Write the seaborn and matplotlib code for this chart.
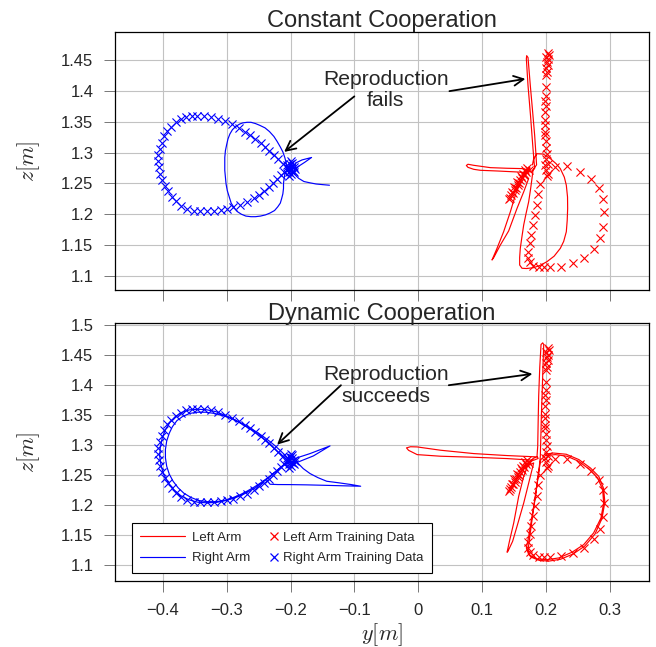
import numpy as np
import matplotlib
matplotlib.use("Agg")
import matplotlib.pyplot as plt
import seaborn as sns
from matplotlib.lines import Line2D
from matplotlib.legend_handler import HandlerLine2D

sns.set_style("whitegrid")
plt.rcParams["font.family"] = ["Liberation Sans", "DejaVu Sans"]
plt.rcParams["mathtext.fontset"] = "cm"
plt.rcParams["axes.unicode_minus"] = True

# ---------------- text / ticks ----------------
TITLES = ["Constant Cooperation", "Dynamic Cooperation"]
ANNOT_TEXT = ["Reproduction\nfails", "Reproduction\nsucceeds"]
LEGEND_LABELS = ["Left Arm", "Right Arm", "Left Arm Training Data", "Right Arm Training Data"]
X_TICKS = [-0.4, -0.3, -0.2, -0.1, 0.0, 0.1, 0.2, 0.3]
X_TICK_LABELS = ["\u22120.4", "\u22120.3", "\u22120.2", "\u22120.1", "0", "0.1", "0.2", "0.3"]
Y_TICKS_TOP = [1.1, 1.15, 1.2, 1.25, 1.3, 1.35, 1.4, 1.45]
Y_TICK_LABELS_TOP = ["1.1", "1.15", "1.2", "1.25", "1.3", "1.35", "1.4", "1.45"]
Y_TICKS_BOT = [1.1, 1.15, 1.2, 1.25, 1.3, 1.35, 1.4, 1.45, 1.5]
Y_TICK_LABELS_BOT = ["1.1", "1.15", "1.2", "1.25", "1.3", "1.35", "1.4", "1.45", "1.5"]

# ---------------- training data (same in both panels) ----------------
TRAIN_RIGHT_Y = [-0.205, -0.212, -0.219, -0.226, -0.233, -0.240, -0.247, -0.255, -0.263, -0.272,
                 -0.281, -0.292, -0.303, -0.314, -0.325, -0.336, -0.346, -0.355, -0.364, -0.372,
                 -0.380, -0.387, -0.393, -0.398, -0.402, -0.405, -0.407, -0.407, -0.406, -0.404,
                 -0.401, -0.397, -0.392, -0.386, -0.379, -0.371, -0.362, -0.352, -0.342, -0.331,
                 -0.320, -0.309, -0.299, -0.290, -0.279, -0.268, -0.258, -0.249, -0.241, -0.234,
                 -0.227, -0.221, -0.215, -0.210,
                 -0.200, -0.198, -0.203, -0.196, -0.201, -0.199, -0.195, -0.204, -0.197, -0.202,
                 -0.194, -0.206, -0.193, -0.200]
TRAIN_RIGHT_Z = [1.276, 1.282, 1.289, 1.296, 1.303, 1.309, 1.316, 1.322, 1.328, 1.334,
                 1.340, 1.346, 1.351, 1.355, 1.358, 1.360, 1.360, 1.360, 1.358, 1.354,
                 1.349, 1.342, 1.335, 1.326, 1.316, 1.306, 1.296, 1.286, 1.276, 1.266,
                 1.256, 1.246, 1.237, 1.228, 1.221, 1.214, 1.209, 1.206, 1.205, 1.205,
                 1.206, 1.207, 1.209, 1.211, 1.215, 1.2195, 1.2255, 1.2315, 1.2375, 1.2435,
                 1.2505, 1.257, 1.2635, 1.269,
                 1.272, 1.278, 1.268, 1.270, 1.281, 1.265, 1.276, 1.274, 1.283, 1.262,
                 1.268, 1.279, 1.273, 1.286]

TRAIN_LEFT_Y = [0.203, 0.205, 0.201, 0.204, 0.202, 0.203, 0.201, 0.202, 0.201, 0.200,
                0.200, 0.199, 0.200, 0.199, 0.198, 0.199, 0.198, 0.199, 0.200, 0.201,
                0.202, 0.201, 0.203, 0.200, 0.204, 0.202, 0.198,
                0.1914, 0.1872, 0.1862, 0.1825, 0.1799, 0.1768, 0.1747, 0.1715, 0.1715, 0.1747,
                0.1799, 0.1888, 0.1977, 0.2071, 0.2238, 0.2426, 0.2593, 0.2749, 0.2843, 0.2890,
                0.2906, 0.2896, 0.2828, 0.2708, 0.2540, 0.2332, 0.2149,
                0.173, 0.169, 0.166, 0.163, 0.160, 0.158, 0.156, 0.153, 0.151, 0.149,
                0.146, 0.144, 0.143, 0.167, 0.161, 0.155, 0.150, 0.147, 0.171, 0.164]
TRAIN_LEFT_Z = [1.462, 1.458, 1.455, 1.451, 1.447, 1.442, 1.437, 1.431, 1.426, 1.406,
                1.392, 1.384, 1.376, 1.366, 1.352, 1.345, 1.333, 1.328, 1.318, 1.308,
                1.298, 1.289, 1.282, 1.272, 1.266, 1.262, 1.279,
                1.2497, 1.2335, 1.2147, 1.1985, 1.1824, 1.1662, 1.1527, 1.1393, 1.1296, 1.1221,
                1.1167, 1.1140, 1.1140, 1.1140, 1.1151, 1.1204, 1.1296, 1.1436, 1.1608, 1.1797,
                1.2039, 1.2254, 1.2427, 1.2578, 1.2685, 1.2777, 1.2766,
                1.271, 1.268, 1.263, 1.259, 1.255, 1.251, 1.247, 1.243, 1.239, 1.235,
                1.231, 1.227, 1.224, 1.272, 1.262, 1.252, 1.244, 1.236, 1.275, 1.266]

# ---------------- reproductions: constant cooperation ----------------
CONST_RIGHT_Y = [-0.139, -0.150, -0.160, -0.170, -0.179, -0.187, -0.194, -0.199,
                 -0.196, -0.203, -0.197, -0.205, -0.199, -0.206, -0.198, -0.202, -0.195,
                 -0.192, -0.182, -0.167, -0.178, -0.190, -0.200,
                 -0.205, -0.207, -0.209, -0.212, -0.216, -0.221, -0.226, -0.233, -0.240, -0.248,
                 -0.255, -0.262, -0.268, -0.275, -0.280, -0.286, -0.291, -0.295, -0.298, -0.300,
                 -0.302, -0.303, -0.303, -0.303, -0.302, -0.301, -0.299, -0.296, -0.293, -0.288,
                 -0.283, -0.277, -0.270, -0.262, -0.255, -0.247, -0.239, -0.232, -0.225, -0.220,
                 -0.216, -0.214, -0.212, -0.211, -0.211, -0.210, -0.209, -0.205]
CONST_RIGHT_Z = [1.247, 1.248, 1.249, 1.251, 1.253, 1.258, 1.265, 1.272,
                 1.280, 1.268, 1.284, 1.270, 1.262, 1.278, 1.275, 1.283, 1.266,
                 1.283, 1.288, 1.292, 1.284, 1.276, 1.273,
                 1.275, 1.284, 1.292, 1.301, 1.309, 1.318, 1.326, 1.334, 1.340, 1.344,
                 1.347, 1.349, 1.349, 1.348, 1.346, 1.342, 1.337, 1.330, 1.322, 1.313,
                 1.303, 1.292, 1.282, 1.271, 1.260, 1.249, 1.238, 1.228, 1.218, 1.210,
                 1.204, 1.200, 1.197, 1.196, 1.196, 1.197, 1.199, 1.202, 1.206, 1.212,
                 1.218, 1.225, 1.233, 1.242, 1.250, 1.258, 1.265, 1.272]

CONST_LEFT_Y = [0.170, 0.160, 0.1522, 0.1444, 0.1339, 0.1235, 0.1157, 0.1183, 0.1287, 0.1418,
                0.1548, 0.1653, 0.1731,
                0.166, 0.172, 0.163, 0.175, 0.168, 0.1705,
                0.1653, 0.1392, 0.1131, 0.0869, 0.0780, 0.0755, 0.0780, 0.0870, 0.0974, 0.1235,
                0.1548, 0.1705, 0.1780,
                0.1825, 0.1800, 0.1783, 0.1760, 0.1740, 0.1721, 0.1705, 0.1695, 0.1700, 0.1721,
                0.1740, 0.1757, 0.1790, 0.1825, 0.1846, 0.1855,
                0.1800, 0.1783, 0.1760, 0.1731, 0.1690, 0.1653, 0.1625, 0.1600, 0.1590, 0.1590,
                0.1627, 0.1700, 0.1809, 0.1909, 0.2018, 0.2130, 0.2227, 0.2280, 0.2321, 0.2335,
                0.2342, 0.2340, 0.2321, 0.2290, 0.2227, 0.2160, 0.2071, 0.1960, 0.1862, 0.1810,
                0.1790]
CONST_LEFT_Z = [1.272, 1.2524, 1.2308, 1.2039, 1.1716, 1.1447, 1.1258, 1.1296, 1.1500, 1.1730,
                1.2093, 1.2362, 1.2578,
                1.266, 1.274, 1.262, 1.276, 1.270, 1.272,
                1.2739, 1.2745, 1.2755, 1.2793, 1.2810, 1.2790, 1.2760, 1.2728, 1.2712, 1.2701,
                1.2685, 1.2674, 1.2700,
                1.2740, 1.3050, 1.3280, 1.3600, 1.3850, 1.4085, 1.4350, 1.4520, 1.4570, 1.4540,
                1.4300, 1.4085, 1.3700, 1.3280, 1.2955, 1.2800,
                1.2720, 1.2578, 1.2400, 1.2201, 1.2010, 1.1824, 1.1630, 1.1447, 1.1300, 1.1177,
                1.1124, 1.1120, 1.1134, 1.1170, 1.1231, 1.1320, 1.1447, 1.1560, 1.1716, 1.1900,
                1.2093, 1.2280, 1.2470, 1.2600, 1.2739, 1.2820, 1.2901, 1.2975, 1.2981, 1.2900,
                1.2800]

# ---------------- reproductions: dynamic cooperation ----------------
DYN_RIGHT_Y = [-0.238, -0.232, -0.220, -0.2007, -0.175, -0.1486, -0.120, -0.0901, -0.105, -0.125,
               -0.1433, -0.157, -0.1694, -0.180, -0.1903,
               -0.197, -0.203, -0.196, -0.206, -0.199, -0.194, -0.204, -0.200,
               -0.190, -0.1694, -0.1381, -0.1642, -0.1877, -0.198,
               -0.201, -0.208, -0.215, -0.223, -0.232, -0.242, -0.253, -0.265, -0.278, -0.291,
               -0.305, -0.319, -0.333, -0.346, -0.358, -0.369, -0.378, -0.385, -0.390, -0.394,
               -0.396, -0.396, -0.394, -0.390, -0.384, -0.376, -0.367, -0.356, -0.344, -0.331,
               -0.317, -0.304, -0.292, -0.280, -0.269, -0.259, -0.250, -0.242, -0.234, -0.226,
               -0.218, -0.210, -0.203,
               -0.205, -0.212, -0.219, -0.227, -0.235, -0.244, -0.254, -0.265, -0.277, -0.290,
               -0.303, -0.317, -0.331, -0.345, -0.358, -0.370, -0.380, -0.389, -0.396, -0.401,
               -0.404, -0.405, -0.403, -0.399, -0.392, -0.383, -0.372, -0.359, -0.345, -0.330,
               -0.315, -0.301, -0.288, -0.276, -0.265, -0.255, -0.246, -0.238, -0.230, -0.222,
               -0.214, -0.207]
DYN_RIGHT_Z = [1.243, 1.235, 1.2345, 1.2344, 1.2340, 1.2333, 1.2325, 1.2317, 1.2345, 1.2375,
               1.2400, 1.2460, 1.2528, 1.2610, 1.2722,
               1.266, 1.281, 1.284, 1.268, 1.262, 1.279, 1.285, 1.270,
               1.279, 1.2861, 1.2989, 1.2822, 1.2722, 1.272,
               1.275, 1.283, 1.290, 1.298, 1.306, 1.314, 1.322, 1.330, 1.337, 1.344,
               1.349, 1.353, 1.355, 1.355, 1.353, 1.348, 1.341, 1.331, 1.320, 1.307,
               1.293, 1.279, 1.265, 1.252, 1.240, 1.229, 1.220, 1.213, 1.208, 1.206,
               1.206, 1.208, 1.212, 1.217, 1.223, 1.229, 1.235, 1.241, 1.247, 1.254,
               1.261, 1.268, 1.273,
               1.271, 1.280, 1.288, 1.296, 1.304, 1.312, 1.320, 1.328, 1.336, 1.344,
               1.350, 1.356, 1.359, 1.360, 1.359, 1.355, 1.348, 1.338, 1.326, 1.312,
               1.297, 1.282, 1.267, 1.252, 1.238, 1.226, 1.216, 1.209, 1.205, 1.204,
               1.205, 1.208, 1.212, 1.217, 1.223, 1.229, 1.236, 1.243, 1.250, 1.257,
               1.264, 1.271]

DYN_LEFT_Y = [0.175, 0.1732, 0.1654, 0.1575, 0.1497, 0.1430, 0.1393, 0.1405, 0.1480, 0.1549,
              0.1654, 0.1732, 0.1810,
              0.172, 0.178, 0.168, 0.180,
              0.1862, 0.1393, 0.0871, 0.0350, -0.0016, -0.0120, -0.0183, -0.0150, -0.0016, 0.0350,
              0.0871, 0.1393, 0.1810, 0.1880,
              0.1862, 0.1873, 0.1880, 0.1888, 0.1905, 0.1925, 0.1951, 0.1967, 0.1955, 0.1941,
              0.1930, 0.1925, 0.1914,
              0.1888, 0.1836, 0.1784, 0.1732, 0.1695, 0.1732, 0.1862, 0.2019, 0.2201, 0.2410,
              0.2593, 0.2749, 0.2864, 0.2906, 0.2890, 0.2812, 0.2687, 0.2514, 0.2332, 0.2149,
              0.1993, 0.1920,
              0.1880, 0.1850, 0.1810, 0.1770, 0.1740, 0.1720, 0.1760, 0.1900, 0.2050, 0.2230,
              0.2430, 0.2610, 0.2770, 0.2880, 0.2925, 0.2905, 0.2830, 0.2700, 0.2520, 0.2320,
              0.2120, 0.1980]
DYN_LEFT_Z = [1.272, 1.2706, 1.2483, 1.2150, 1.1706, 1.1400, 1.1217, 1.1230, 1.1400, 1.1650,
              1.2039, 1.2372, 1.2706,
              1.266, 1.275, 1.262, 1.278,
              1.2806, 1.2828, 1.2861, 1.2917, 1.2972, 1.2975, 1.2956, 1.2915, 1.2844, 1.2817,
              1.2800, 1.2778, 1.2750, 1.2780,
              1.2817, 1.2983, 1.3400, 1.3817, 1.4300, 1.4678, 1.4706, 1.4678, 1.4300, 1.3817,
              1.3500, 1.3261, 1.2817,
              1.2539, 1.2150, 1.1817, 1.1483, 1.1289, 1.1178, 1.1106, 1.1094, 1.1122, 1.1217,
              1.1344, 1.1539, 1.1789, 1.2039, 1.2261, 1.2456, 1.2594, 1.2733, 1.2817, 1.2844,
              1.2828, 1.2760,
              1.2500, 1.2250, 1.1950, 1.1650, 1.1400, 1.1250, 1.1140, 1.1080, 1.1070, 1.1100,
              1.1190, 1.1320, 1.1520, 1.1780, 1.2050, 1.2280, 1.2480, 1.2620, 1.2760, 1.2850,
              1.2870, 1.2850]

PANELS = [
    dict(left=(CONST_LEFT_Y, CONST_LEFT_Z), right=(CONST_RIGHT_Y, CONST_RIGHT_Z),
         ylim=(1.0772, 1.4949), yticks=Y_TICKS_TOP, ylabels=Y_TICK_LABELS_TOP,
         text_xy=(-0.051, 1.401),
         arrows=[((-0.210, 1.301), (-0.100, 1.391)), ((0.168, 1.4194), (0.049, 1.3995))]),
    dict(left=(DYN_LEFT_Y, DYN_LEFT_Z), right=(DYN_RIGHT_Y, DYN_RIGHT_Z),
         ylim=(1.0738, 1.5037), yticks=Y_TICKS_BOT, ylabels=Y_TICK_LABELS_BOT,
         text_xy=(-0.051, 1.3995),
         arrows=[((-0.221, 1.3011), (-0.121, 1.400)), ((0.179, 1.4189), (0.048, 1.400))]),
]

RED = "#ff0000"
BLUE = "#0000ff"

fig = plt.figure(figsize=(6.56, 6.47), dpi=100)
ax_top = fig.add_axes([0.1753, 0.5518, 0.8134, 0.3983])
ax_bot = fig.add_axes([0.1753, 0.1020, 0.8134, 0.3988])
axes = [ax_top, ax_bot]

for i, (ax, p) in enumerate(zip(axes, PANELS)):
    ax.set_axisbelow(True)
    sns.lineplot(x=p["left"][0], y=p["left"][1], sort=False, estimator=None,
                 color=RED, lw=0.85, ax=ax)
    sns.lineplot(x=p["right"][0], y=p["right"][1], sort=False, estimator=None,
                 color=BLUE, lw=0.85, ax=ax)
    sns.scatterplot(x=TRAIN_LEFT_Y, y=TRAIN_LEFT_Z, marker="x", color=RED, s=34,
                    linewidth=0.8, ax=ax)
    sns.scatterplot(x=TRAIN_RIGHT_Y, y=TRAIN_RIGHT_Z, marker="x", color=BLUE, s=34,
                    linewidth=0.8, ax=ax)

    ax.set_xlim(-0.475, 0.361)
    ax.set_ylim(*p["ylim"])
    ax.set_xticks(X_TICKS)
    ax.set_xticklabels(X_TICK_LABELS)
    ax.set_yticks(p["yticks"])
    ax.set_yticklabels(p["ylabels"])
    ax.grid(True, color="#c2c2c2", lw=0.8)
    for sp in ax.spines.values():
        sp.set_color("black")
        sp.set_linewidth(0.9)
    ax.tick_params(axis="both", direction="out", length=8, width=0.7, color="#777777",
                   labelsize=12, pad=7.5, bottom=True, left=True, top=False, right=False)
    ax.set_title(TITLES[i], fontsize=17, pad=2)
    ax.set_ylabel(r"$z[m]$", fontsize=16)
    ax.yaxis.set_label_coords(-0.137, 0.5)

    ax.text(p["text_xy"][0], p["text_xy"][1], ANNOT_TEXT[i], ha="center", va="center",
            fontsize=15.2, linespacing=1.15, multialignment="center")
    for head, tail in p["arrows"]:
        ax.annotate("", xy=head, xytext=tail,
                    arrowprops=dict(arrowstyle="->,head_length=0.7,head_width=0.35",
                                    color="black", lw=1.3, shrinkA=0, shrinkB=0))

ax_top.tick_params(labelbottom=False)
ax_bot.set_xlabel(r"$y[m]$", fontsize=16)
ax_bot.xaxis.set_label_coords(0.5, -0.155)


class RightMarkerHandler(HandlerLine2D):
    def get_xdata(self, legend, xdescent, ydescent, width, height, fontsize):
        x_end = -xdescent + width
        off = 0.2 * fontsize
        xdata = np.array([x_end - 2 * off, x_end])
        return xdata, np.array([x_end - off])


handles = [Line2D([], [], color=RED, lw=0.85),
           Line2D([], [], color=BLUE, lw=0.85),
           Line2D([], [], color=RED, ls="none", marker="x", ms=5.5, mew=0.9),
           Line2D([], [], color=BLUE, ls="none", marker="x", ms=5.5, mew=0.9)]
leg = ax_bot.legend(handles, LEGEND_LABELS, ncol=2, loc="lower left",
                    bbox_to_anchor=(0.0312, 0.031), borderaxespad=0, fontsize=9.5,
                    handlelength=3.43, handletextpad=0.51, columnspacing=-1.47,
                    labelspacing=0.62, borderpad=0.65, frameon=True, fancybox=False,
                    edgecolor="black", framealpha=1,
                    handler_map={handles[2]: RightMarkerHandler(numpoints=1),
                                 handles[3]: RightMarkerHandler(numpoints=1)})
leg.get_frame().set_linewidth(0.8)

fig.savefig("out.png", dpi=100)
